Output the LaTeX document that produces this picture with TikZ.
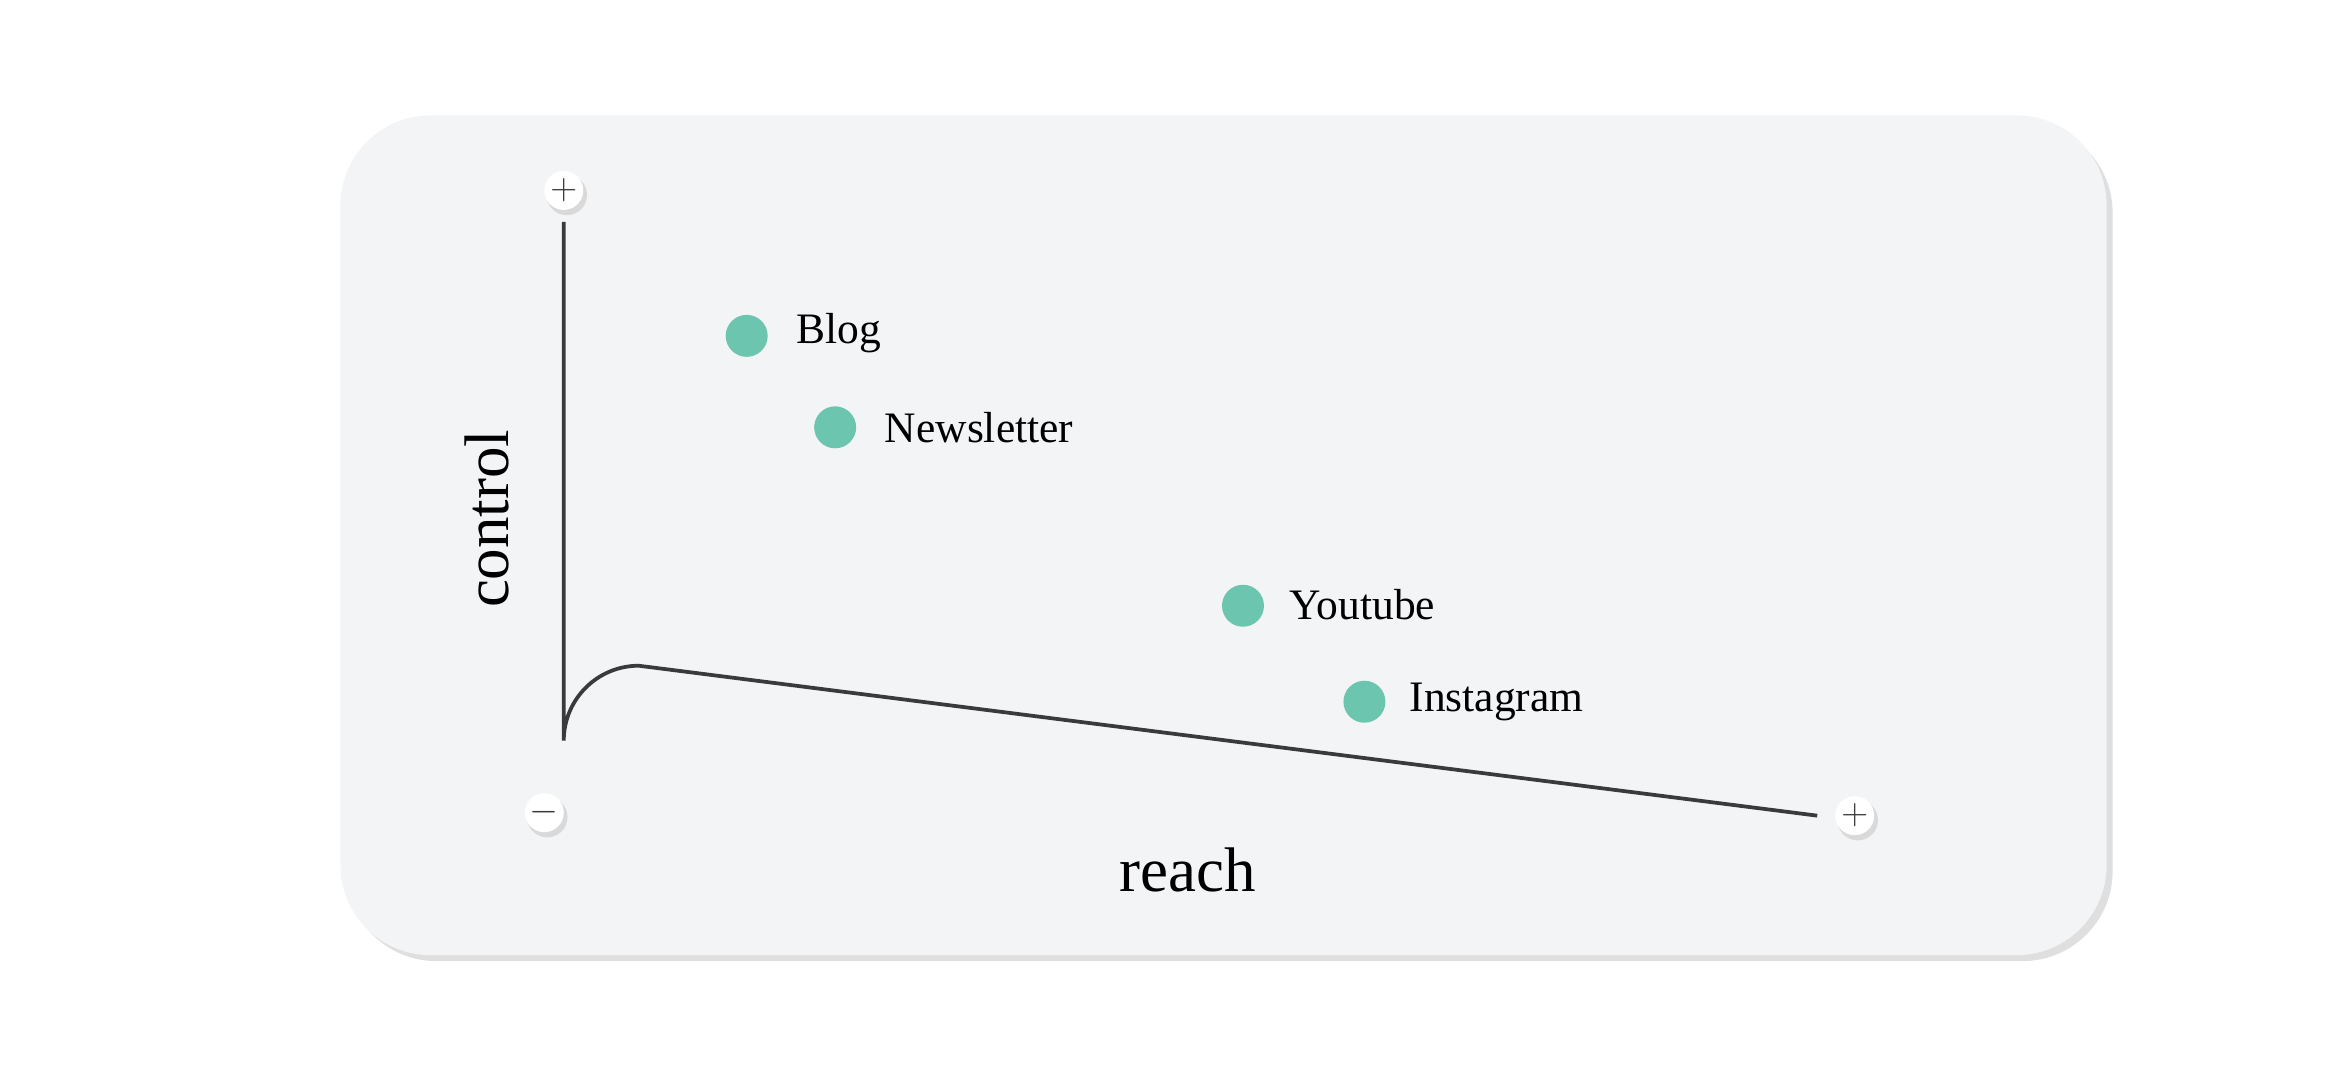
\documentclass[tikz,border=0pt]{standalone}
\usepackage{fontspec}
\setmainfont{Liberation Serif}
\definecolor{panelgray}{HTML}{F3F4F6}
\definecolor{dotgreen}{HTML}{6CC5AE}
\definecolor{axisgray}{HTML}{3A3A3A}
\tikzset{
  dot/.style={circle,fill=dotgreen,minimum size=28pt,inner sep=0pt},
  lbl/.style={anchor=west,font=\fontsize{29}{29}\selectfont,inner sep=0pt},
  endmark/.style={circle,fill=white,minimum size=26pt,inner sep=0pt,
    font=\fontsize{26}{26}\selectfont,text=axisgray},
}
\begin{document}
\begin{tikzpicture}[x=1pt,y=-1pt]
\useasboundingbox (0,0) rectangle (1568,717);
% panel
\fill[gray!25,rounded corners=60pt] (231,82) rectangle (1409,641);
\fill[panelgray,rounded corners=60pt] (227,77) rectangle (1405,637);
% axes
\draw[axisgray,line width=2.5pt] (376,148) -- (376,494) arc[start angle=180,end angle=270,radius=50] -- (1212,544);
\fill[gray!30] (378,130) circle (13.5);
\node[endmark] (ytop) at (376,127) {$+$};
\fill[gray!30] (365,545) circle (13.5);
\node[endmark] (xlow) at (363,542) {$-$};
\fill[gray!30] (1239,547) circle (13.5);
\node[endmark] (xtop) at (1237,544) {$+$};
\node[font=\fontsize{42}{42}\selectfont] (reach) at (792,580) {reach};
\node[font=\fontsize{42}{42}\selectfont,rotate=90] (control) at (325,346) {control};
% channels
\node[dot] (blog) at (498,224) {};
\node[lbl] at (531,222) {Blog};
\node[dot] (news) at (557,285) {};
\node[lbl] at (590,285) {Newsletter};
\node[dot] (yt) at (829,404) {};
\node[lbl] at (860,403) {Youtube};
\node[dot] (insta) at (910,468) {};
\node[lbl] at (940,468) {Instagram};
\end{tikzpicture}
\end{document}
